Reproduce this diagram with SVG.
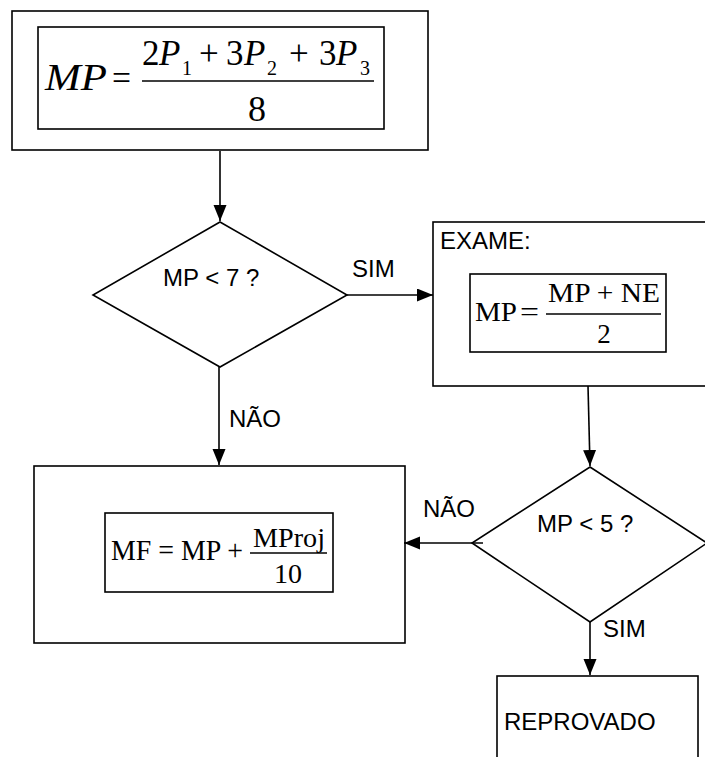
<svg xmlns="http://www.w3.org/2000/svg" width="705" height="757" viewBox="0 0 705 757">
<style>
.box{fill:none;stroke:#000;stroke-width:1.6}
.ln{fill:none;stroke:#000;stroke-width:1.6}
.lbl{font-family:"Liberation Sans",Arial,sans-serif;font-size:24px;fill:#000}
.mi{font-family:"Liberation Serif","Times New Roman",serif;font-style:italic;fill:#000}
.mr{font-family:"Liberation Serif","Times New Roman",serif;fill:#000}
.fr{stroke:#000;stroke-width:1.4}
</style>
<defs>
<marker id="ah" markerUnits="userSpaceOnUse" markerWidth="17" markerHeight="14" refX="16" refY="6.5" orient="auto">
<path d="M0,0 L16,6.5 L0,13 z" fill="#000"/>
</marker>
</defs>
<rect width="705" height="757" fill="#fff"/>
<g id="connectors">
<line class="ln" x1="220" y1="151" x2="220" y2="221" marker-end="url(#ah)"/>
<line class="ln" x1="347" y1="295" x2="433" y2="295" marker-end="url(#ah)"/>
<line class="ln" x1="219" y1="367" x2="219" y2="465" marker-end="url(#ah)"/>
<line class="ln" x1="588" y1="386" x2="590" y2="466" marker-end="url(#ah)"/>
<line class="ln" x1="483" y1="543" x2="404" y2="543" marker-end="url(#ah)"/>
<line class="ln" x1="590" y1="622" x2="590" y2="675" marker-end="url(#ah)"/>
<text class="lbl" x="352" y="277">SIM</text>
<text class="lbl" x="229" y="427">NÃO</text>
<text class="lbl" x="423" y="517">NÃO</text>
<text class="lbl" x="603" y="637">SIM</text>
</g>
<g id="start">
<rect class="box" x="12" y="11" width="416" height="139"/>
<rect class="box" x="38" y="27" width="346" height="102"/>
<text class="mi" x="45" y="90" font-size="37" textLength="62" lengthAdjust="spacingAndGlyphs">MP</text>
<text class="mr" x="112" y="90" font-size="36" textLength="19" lengthAdjust="spacingAndGlyphs">=</text>
<line class="fr" x1="142" y1="81" x2="374" y2="81"/>
<text class="mr" x="142" y="65" font-size="35">2</text>
<text class="mi" x="159" y="65" font-size="35">P</text>
<text class="mr" x="182" y="75" font-size="20">1</text>
<text class="mr" x="199" y="65" font-size="35">+</text>
<text class="mr" x="226" y="65" font-size="35">3</text>
<text class="mi" x="244" y="65" font-size="35">P</text>
<text class="mr" x="267" y="75" font-size="20">2</text>
<text class="mr" x="289" y="65" font-size="35">+</text>
<text class="mr" x="319" y="65" font-size="35">3</text>
<text class="mi" x="336" y="65" font-size="35">P</text>
<text class="mr" x="360" y="75" font-size="20">3</text>
<text class="mr" x="257" y="121" font-size="36" text-anchor="middle">8</text>
</g>
<g id="decision1">
<polygon class="box" points="220,222 347,295 220,367 93,295"/>
<text class="lbl" x="163" y="286">MP &lt; 7 ?</text>
</g>
<g id="exame">
<rect class="box" x="433" y="222" width="300" height="164"/>
<text class="lbl" x="440" y="249">EXAME:</text>
<rect class="box" x="470" y="274" width="196" height="78"/>
<text class="mr" x="475" y="321" font-size="27" textLength="42" lengthAdjust="spacingAndGlyphs">MP</text>
<text class="mr" x="520" y="321" font-size="27" textLength="19" lengthAdjust="spacingAndGlyphs">=</text>
<line class="fr" x1="546" y1="314" x2="661" y2="314"/>
<text class="mr" x="548" y="302" font-size="27" textLength="112" lengthAdjust="spacingAndGlyphs">MP + NE</text>
<text class="mr" x="604" y="343" font-size="27" text-anchor="middle">2</text>
</g>
<g id="decision2">
<polygon class="box" points="590,467 707,543 590,622 472,543"/>
<text class="lbl" x="537" y="532">MP &lt; 5 ?</text>
</g>
<g id="final">
<rect class="box" x="34" y="466" width="371" height="177"/>
<rect class="box" x="105" y="513" width="228" height="79"/>
<text class="mr" x="111" y="560" font-size="29" textLength="132" lengthAdjust="spacingAndGlyphs">MF = MP +</text>
<line class="fr" x1="250" y1="553" x2="327" y2="553"/>
<text class="mr" x="253" y="547" font-size="28" textLength="72" lengthAdjust="spacingAndGlyphs">MProj</text>
<text class="mr" x="288" y="583" font-size="28" text-anchor="middle">10</text>
</g>
<g id="reprovado">
<rect class="box" x="497" y="676" width="201" height="100"/>
<text class="lbl" x="504" y="730">REPROVADO</text>
</g>
</svg>
